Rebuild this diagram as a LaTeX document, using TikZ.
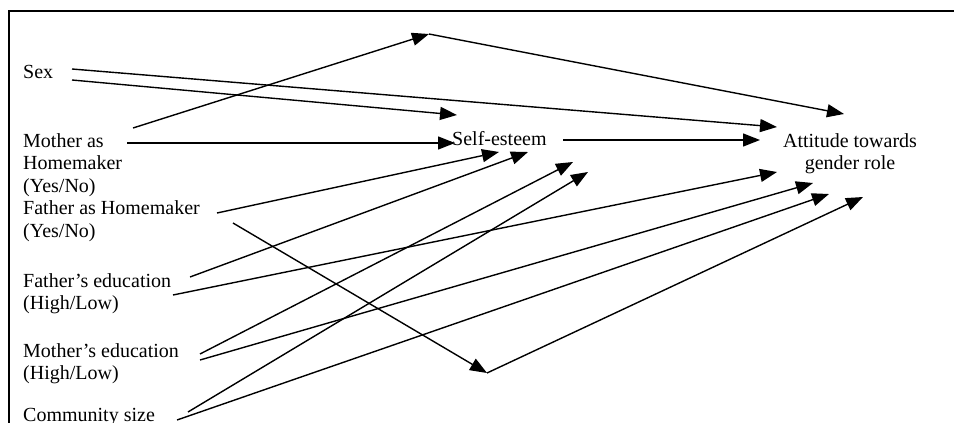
\documentclass[tikz,border=0pt]{standalone}
\usepackage{fontspec}
\setmainfont{Liberation Serif}
\usetikzlibrary{arrows.meta}
\begin{document}
\begin{tikzpicture}[x=1pt,y=-1pt,
  lbl/.style={inner sep=0pt, anchor=base west, font=\fontsize{20pt}{22.5pt}\selectfont},
  clbl/.style={lbl, anchor=base},
  conn/.style={line width=1.4pt, -{Triangle[length=17pt,width=13pt]}},
  frame/.style={line width=2.4pt, line join=miter}]
\useasboundingbox (0,0) rectangle (954,423);
% frame
\coordinate (fbl) at (9,430);
\coordinate (ftl) at (9,11);
\coordinate (ftr) at (960,11);
\draw[frame] (fbl) -- (ftl) -- (ftr);
% labels
\node[lbl] (sex) at (23,78) {Sex};
\node[lbl] (mh1) at (23,147) {Mother as};
\node[lbl] (mh2) at (23,169.5) {Homemaker};
\node[lbl] (mh3) at (23,192) {(Yes/No)};
\node[lbl] (fh1) at (23,214.5) {Father as Homemaker};
\node[lbl] (fh2) at (23,237) {(Yes/No)};
\node[lbl] (fe1) at (23,287) {Father’s education};
\node[lbl] (fe2) at (23,309.5) {(High/Low)};
\node[lbl] (me1) at (23,357) {Mother’s education};
\node[lbl] (me2) at (23,379.5) {(High/Low)};
\node[lbl] (cs) at (23,421) {Community size};
\node[lbl] (se) at (452,145) {Self-esteem};
\node[clbl] (at1) at (850,147) {Attitude towards};
\node[clbl] (at2) at (850,169.5) {gender role};
% connector end points
\coordinate (sexA) at (72,69);
\coordinate (sexB) at (72,80);
\coordinate (mhA) at (133,128);
\coordinate (mhB) at (127,143);
\coordinate (peak) at (429,34);
\coordinate (seL) at (455,143);
\coordinate (seT) at (457,115);
\coordinate (seR) at (563,140);
\coordinate (atL) at (760,140);
\coordinate (atS) at (777,127);
\coordinate (atT) at (844,114);
\coordinate (fhA) at (217,213);
\coordinate (fhB) at (233,223);
\coordinate (low) at (487,373);
\coordinate (feA) at (190,277);
\coordinate (feB) at (173,295);
\coordinate (meA) at (200,354);
\coordinate (meB) at (200,360);
\coordinate (csA) at (188,412);
\coordinate (csB) at (177,420);
\coordinate (se1) at (499,152);
\coordinate (se2) at (528,152);
\coordinate (se3) at (573,162);
\coordinate (se4) at (588,172);
\coordinate (at3) at (777,172);
\coordinate (at4) at (813,183);
\coordinate (at5) at (829,194);
\coordinate (at6) at (863,197);
% connectors
\draw[conn] (sexA) -- (atS);
\draw[conn] (sexB) -- (seT);
\draw[conn] (mhA) -- (peak);
\draw[conn] (peak) -- (atT);
\draw[conn] (mhB) -- (seL);
\draw[conn] (seR) -- (atL);
\draw[conn] (fhA) -- (se1);
\draw[conn] (fhB) -- (low);
\draw[conn] (low) -- (at6);
\draw[conn] (feA) -- (se2);
\draw[conn] (feB) -- (at3);
\draw[conn] (meA) -- (se3);
\draw[conn] (meB) -- (at4);
\draw[conn] (csA) -- (se4);
\draw[conn] (csB) -- (at5);
\end{tikzpicture}
\end{document}
